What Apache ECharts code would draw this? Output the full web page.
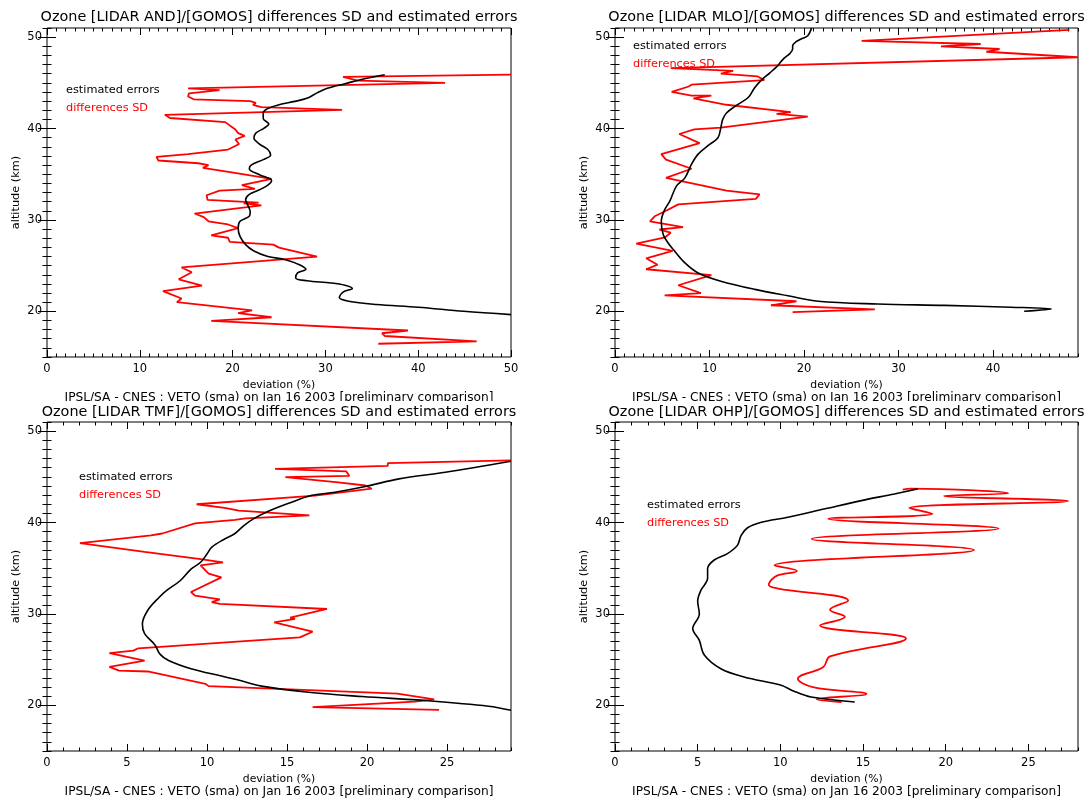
<!DOCTYPE html>
<html>
<head>
<meta charset="utf-8">
<script src="https://cdn.jsdelivr.net/npm/echarts@6/dist/echarts.min.js"></script>
<style>
  html, body { margin: 0; padding: 0; background: #fff; }
  #chart { width: 1090px; height: 798px; }
</style>
</head>
<body>
<div id="chart"></div>
<script>
// ---- data ------------------------------------------------------------
const STATIONS = ['AND', 'MLO', 'TMF', 'OHP'];
const X_MAX = [50, 49, 29, 28];
const X_TICKS = [
  [0, 10, 20, 30, 40, 50],
  [0, 10, 20, 30, 40],
  [0, 5, 10, 15, 20, 25],
  [0, 5, 10, 15, 20, 25]
];
const Y_TICKS = [20, 30, 40, 50];
const ALT_MIN = 15;
const ALT_MAX = 51;
const FOOTER = 'IPSL/SA - CNES : VETO (sma) on Jan 16 2003 [preliminary comparison]';

// [deviation %, altitude km]
const andErr = [
  [36.4, 45.88], [34.0, 45.4], [32.1, 44.9], [30.2, 44.4], [29.1, 43.9], [28.0, 43.3],
  [26.7, 42.97], [25.0, 42.6], [23.8, 42.2], [23.3, 41.7], [23.3, 41.1], [23.9, 40.5],
  [23.4, 40.05], [22.5, 39.5], [22.3, 38.95], [22.9, 38.3], [23.8, 37.7], [24.1, 37.1],
  [23.3, 36.6], [22.0, 36.0], [21.8, 35.6], [22.9, 34.95], [24.2, 34.3], [23.8, 33.8],
  [22.9, 33.3], [21.8, 32.8], [21.4, 32.2], [21.6, 31.7], [21.9, 30.9], [21.8, 30.4],
  [20.8, 29.85], [20.6, 29.1], [20.8, 28.2], [21.4, 27.3], [22.3, 26.6], [23.8, 26.0],
  [25.7, 25.65], [27.2, 25.1], [27.9, 24.6], [27.0, 24.2], [26.8, 23.65], [28.0, 23.35],
  [30.6, 23.1], [32.1, 22.85], [32.9, 22.5], [31.9, 22.1], [31.5, 21.5], [32.5, 21.1],
  [35.5, 20.75], [40.0, 20.45], [44.9, 20.0], [50.0, 19.64]
];
const andSd = [
  [50.0, 45.9], [31.9, 45.65], [33.5, 45.25], [42.9, 45.0], [15.2, 44.4], [18.6, 44.2],
  [15.3, 43.85], [15.2, 43.5], [15.8, 43.2], [21.9, 43.0], [22.5, 42.8], [22.2, 42.6],
  [23.1, 42.35], [31.8, 42.05], [12.7, 41.5], [13.25, 41.15], [19.2, 40.7], [20.3, 39.9],
  [20.6, 39.5], [21.3, 39.2], [20.3, 38.8], [20.7, 38.3], [19.9, 37.9], [19.5, 37.7],
  [15.2, 37.2], [11.8, 36.9], [12.0, 36.5], [16.3, 36.2], [17.4, 36.0], [16.8, 35.7],
  [19.9, 35.2], [24.2, 34.5], [21.0, 33.8], [22.4, 33.4], [18.6, 33.2], [17.2, 32.7],
  [17.3, 32.2], [22.8, 31.9], [21.2, 31.8], [23.1, 31.6], [15.9, 30.7], [16.9, 30.3],
  [17.4, 29.85], [19.5, 29.5], [20.6, 29.1], [17.7, 28.3], [19.5, 28.05], [19.7, 27.6],
  [24.4, 27.3], [25.0, 26.97], [29.1, 25.98], [14.5, 24.8], [15.6, 24.27], [14.2, 23.5],
  [16.7, 22.8], [12.5, 22.2], [14.5, 21.4], [14.0, 21.0], [22.1, 20.1], [20.6, 19.8],
  [24.2, 19.35], [17.7, 18.95], [38.9, 17.9], [36.1, 17.6], [36.4, 17.3], [46.3, 16.7],
  [35.7, 16.45]
];

const mloErr = [
  [20.8, 51.0], [20.4, 50.15], [19.7, 49.8], [19.2, 49.53], [18.8, 49.06], [18.8, 48.7],
  [18.5, 48.2], [17.8, 47.6], [17.2, 46.86], [16.4, 46.1], [15.6, 45.4], [14.8, 44.5],
  [14.1, 43.4], [12.8, 42.5], [11.8, 41.7], [11.4, 41.0], [11.2, 40.1], [10.9, 39.0],
  [9.8, 38.1], [8.8, 37.2], [8.1, 36.1], [7.4, 34.6], [6.5, 33.7], [5.8, 32.05],
  [5.25, 31.1], [4.9, 29.85], [5.1, 28.4], [5.6, 27.5], [6.3, 26.6], [7.4, 25.3],
  [8.8, 24.2], [11.2, 23.3], [14.8, 22.4], [18.3, 21.7], [21.5, 21.1], [27.8, 20.8],
  [34.9, 20.65], [41.9, 20.45], [46.2, 20.25], [43.3, 20.0]
];
const mloSd = [
  [48.1, 50.8], [26.1, 49.6], [38.7, 49.25], [34.5, 49.0], [40.7, 48.7], [39.3, 48.4],
  [49.0, 47.8], [5.9, 46.6], [12.5, 46.3], [11.2, 46.0], [15.1, 45.7], [15.0, 45.55],
  [15.8, 45.3], [8.1, 44.8], [7.8, 44.6], [6.0, 44.0], [8.1, 43.6], [10.2, 43.6],
  [8.3, 43.3], [11.8, 42.6], [18.6, 41.8], [17.1, 41.6], [20.4, 41.3], [11.2, 40.1],
  [8.4, 39.9], [6.8, 39.4], [8.95, 38.4], [4.9, 37.2], [5.4, 36.6], [8.1, 35.6],
  [5.4, 34.6], [11.8, 33.2], [15.3, 32.8], [14.9, 32.3], [6.7, 31.7], [5.4, 31.0],
  [4.2, 30.4], [3.7, 29.85], [7.2, 29.2], [4.7, 28.95], [5.9, 28.6], [5.3, 28.1],
  [2.25, 27.4], [6.1, 26.6], [3.3, 25.8], [4.5, 25.1], [3.3, 24.6], [10.2, 23.95],
  [6.7, 22.85], [9.1, 22.0], [5.25, 21.75], [19.2, 21.1], [16.5, 20.66], [27.5, 20.22],
  [18.8, 19.9]
];

const tmfErr = [
  [29.0, 46.7], [24.9, 45.5], [22.0, 44.78], [19.9, 43.94], [18.0, 43.32], [16.5, 42.95],
  [15.1, 42.1], [13.8, 41.2], [12.9, 40.4], [12.3, 39.66], [11.75, 38.8], [11.1, 38.2],
  [10.3, 37.3], [10.0, 36.56], [9.6, 35.65], [9.0, 34.9], [8.3, 33.6], [7.5, 32.6],
  [7.0, 31.8], [6.3, 30.4], [5.96, 28.9], [6.1, 27.85], [6.75, 26.6], [7.06, 25.6],
  [7.6, 24.9], [9.0, 24.0], [10.9, 23.2], [11.96, 22.77], [13.4, 22.1], [16.5, 21.4],
  [19.7, 20.96], [23.8, 20.5], [27.6, 19.9], [29.0, 19.45]
];
const tmfSd = [
  [29.0, 46.8], [21.3, 46.5], [21.3, 46.2], [14.25, 45.87], [18.7, 45.6], [18.9, 45.1],
  [14.9, 44.96], [18.2, 44.4], [19.9, 44.05], [20.3, 43.7], [16.75, 42.95], [9.35, 42.0],
  [11.1, 41.6], [12.0, 41.3], [16.4, 40.78], [12.4, 40.45], [11.75, 40.3], [9.25, 39.9],
  [7.2, 38.8], [6.5, 38.6], [2.06, 37.75], [6.1, 36.8], [9.6, 36.0], [11.0, 35.65],
  [9.6, 35.3], [10.1, 34.4], [10.9, 34.0], [9.0, 32.4], [9.25, 32.0], [10.8, 31.6],
  [10.3, 31.3], [10.8, 31.1], [17.5, 30.54], [15.2, 29.6], [15.5, 29.45], [14.2, 29.07],
  [16.6, 28.05], [15.8, 27.43], [5.7, 26.24], [5.4, 25.98], [3.9, 25.7], [6.1, 24.9],
  [3.9, 24.2], [4.5, 23.8], [6.3, 23.7], [9.9, 22.35], [10.1, 22.1], [21.9, 21.27],
  [24.2, 20.66], [23.0, 20.4], [16.6, 19.8], [24.5, 19.5]
];

const ohpErr = [
  [18.3, 43.68], [16.9, 43.13], [14.9, 42.4], [12.7, 41.5], [10.45, 40.58], [8.8, 40.0],
  [8.0, 39.4], [7.63, 38.6], [7.4, 37.5], [6.8, 36.6], [6.0, 35.9], [5.6, 34.96],
  [5.6, 33.9], [5.2, 32.6], [5.0, 31.4], [5.1, 30.0], [4.7, 28.4], [5.1, 27.1],
  [5.4, 25.5], [6.4, 24.0], [7.8, 23.1], [10.05, 22.2], [10.75, 21.6], [11.86, 20.9],
  [14.5, 20.36]
];
const ohpSd = [
  [17.4, 43.6], [17.9, 43.7], [23.8, 43.2], [19.9, 42.9], [27.4, 42.35], [17.8, 41.6],
  [19.2, 40.95], [12.9, 40.4], [23.2, 39.35], [11.9, 38.2], [21.7, 37.0], [9.65, 35.3],
  [11.0, 34.7], [9.8, 34.2], [9.5, 33.8], [9.3, 33.2], [9.8, 32.8], [14.1, 31.45],
  [13.0, 30.45], [13.9, 29.7], [12.4, 28.75], [17.6, 27.3], [13.0, 25.35], [12.6, 24.2],
  [11.06, 22.9], [11.96, 22.0], [15.2, 21.25], [12.2, 20.65], [13.7, 20.35]
];

const ERRORS = [andErr, mloErr, tmfErr, ohpErr];
const SDS = [andSd, mloSd, tmfSd, ohpSd];

// ---- layout ----------------------------------------------------------
const FONT = 'DejaVu Sans';
const RED = '#ff0000';
const PANELS = [
  { left: 47,  top: 28,  width: 464, height: 329, legend: [66, 90] },
  { left: 615, top: 28,  width: 463, height: 329, legend: [633, 45.7] },
  { left: 47,  top: 422, width: 464, height: 329, legend: [79, 477] },
  { left: 615, top: 422, width: 463, height: 329, legend: [647, 505.3] }
];

const grids = [], xAxes = [], yAxes = [], series = [], graphics = [];

PANELS.forEach((p, g) => {
  grids.push({
    left: p.left, top: p.top, width: p.width, height: p.height,
    show: true, borderColor: '#000', borderWidth: 1, backgroundColor: 'transparent'
  });

  const tickStyle = { color: '#000', width: 1 };
  const xBase = {
    gridIndex: g, type: 'value', min: 0, max: X_MAX[g], interval: 1,
    axisLine: { show: false }, splitLine: { show: false }
  };
  ['bottom', 'top'].forEach(pos => {
    xAxes.push(Object.assign({}, xBase, {
      position: pos,
      axisTick: { show: true, inside: true, length: 7, customValues: X_TICKS[g], lineStyle: tickStyle },
      axisLabel: pos === 'bottom'
        ? { show: true, customValues: X_TICKS[g], margin: 6, color: '#000', fontFamily: FONT, fontSize: 11.5 }
        : { show: false }
    }));
    xAxes.push(Object.assign({}, xBase, {
      position: pos,
      axisTick: { show: true, inside: true, length: 3.5, lineStyle: tickStyle },
      axisLabel: { show: false }
    }));
  });

  const yBase = {
    gridIndex: g, type: 'value', min: ALT_MIN, max: ALT_MAX, interval: 1,
    axisLine: { show: false }, splitLine: { show: false }
  };
  ['left', 'right'].forEach(pos => {
    yAxes.push(Object.assign({}, yBase, {
      position: pos,
      axisTick: { show: true, inside: true, length: 9, customValues: Y_TICKS, lineStyle: tickStyle },
      axisLabel: pos === 'left'
        ? { show: true, customValues: Y_TICKS, margin: 5, color: '#000', fontFamily: FONT, fontSize: 11.5 }
        : { show: false }
    }));
    yAxes.push(Object.assign({}, yBase, {
      position: pos,
      axisTick: { show: true, inside: true, length: 4.5, lineStyle: tickStyle },
      axisLabel: { show: false }
    }));
  });

  // differences SD (red) below, estimated errors (black) on top
  series.push({
    type: 'line', name: 'differences SD', xAxisIndex: g * 4, yAxisIndex: g * 4,
    data: SDS[g], showSymbol: false, smooth: g === 3 ? 0.4 : false,
    lineStyle: { color: RED, width: 1.8 }, clip: true, z: 2
  });
  series.push({
    type: 'line', name: 'estimated errors', xAxisIndex: g * 4, yAxisIndex: g * 4,
    data: ERRORS[g], showSymbol: false, smooth: 0.35,
    lineStyle: { color: '#000', width: 1.6 }, clip: true, z: 3
  });

  const cx = p.left + p.width / 2;
  const rowTop = g < 2 ? 0 : 394.5;

  graphics.push({
    type: 'text', x: cx, y: rowTop + 17.5, z: 200,
    style: {
      text: 'Ozone [LIDAR ' + STATIONS[g] + ']/[GOMOS] differences SD and estimated errors',
      fill: '#000', font: '14.4px "' + FONT + '"', textAlign: 'center', textVerticalAlign: 'middle'
    }
  });
  graphics.push({
    type: 'text', x: cx, y: rowTop + 385,
    style: { text: 'deviation (%)', fill: '#000', font: '10.8px "' + FONT + '"',
      textAlign: 'center', textVerticalAlign: 'middle' }
  });
  graphics.push({
    type: 'text', x: cx, y: rowTop + 397.5,
    style: { text: FOOTER, fill: '#000', font: '12.2px "' + FONT + '"',
      textAlign: 'center', textVerticalAlign: 'middle' }
  });
  graphics.push({
    type: 'text', x: p.left - 31.3, y: p.top + p.height / 2, rotation: Math.PI / 2,
    style: { text: 'altitude (km)', fill: '#000', font: '11.3px "' + FONT + '"',
      textAlign: 'center', textVerticalAlign: 'middle' }
  });
  graphics.push({
    type: 'text', x: p.legend[0], y: p.legend[1],
    style: { text: 'estimated errors', fill: '#000', font: '11.3px "' + FONT + '"',
      textAlign: 'left', textVerticalAlign: 'middle' }
  });
  graphics.push({
    type: 'text', x: p.legend[0], y: p.legend[1] + 18,
    style: { text: 'differences SD', fill: RED, font: '11.3px "' + FONT + '"',
      textAlign: 'left', textVerticalAlign: 'middle' }
  });
});

// the lower row of panels overlaps the foot of the upper row's credit line
graphics.push({
  type: 'rect', shape: { x: 0, y: 401, width: 1090, height: 3 },
  style: { fill: '#fff' }, z: 100
});

const chart = echarts.init(document.getElementById('chart'), null, { renderer: 'canvas' });
chart.setOption({
  animation: false,
  backgroundColor: '#fff',
  grid: grids,
  xAxis: xAxes,
  yAxis: yAxes,
  series: series,
  graphic: graphics
});
</script>
</body>
</html>
